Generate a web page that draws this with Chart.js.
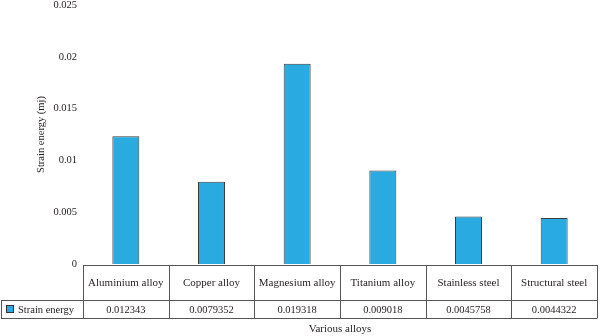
<!DOCTYPE html>
<html>
<head>
<meta charset="utf-8">
<script src="https://cdn.jsdelivr.net/npm/chart.js@4"></script>
<style>
html,body{margin:0;padding:0;background:#fff;}
#wrap{width:600px;height:336px;position:relative;}
</style>
</head>
<body>
<div id="wrap"><canvas id="c" width="600" height="336"></canvas></div>
<script>
const categories = ['Aluminium alloy','Copper alloy','Magnesium alloy','Titanium alloy','Stainless steel','Structural steel'];
const strainEnergy = [0.012343, 0.0079352, 0.019318, 0.009018, 0.0045758, 0.0044322];
const valueLabels = ['0.012343','0.0079352','0.019318','0.009018','0.0045758','0.0044322'];
const yTickLabels = ['0','0.005','0.01','0.015','0.02','0.025'];
const seriesName = 'Strain energy';
const xTitle = 'Various alloys';
const yTitle = 'Strain energy (mj)';

const FONT = '"Liberation Serif", "Times New Roman", serif';
const TEXT = '#231f20';
const LINE = '#555555';
const BLUE = '#29abe2';

const tablePlugin = {
  id: 'dataTable',
  afterDraw(chart) {
    const ctx = chart.ctx;
    const xs = chart.scales.x;
    const area = chart.chartArea;
    const n = categories.length;
    const w = (xs.right - xs.left) / n;
    const top = area.bottom + 1;
    const mid = top + 35;
    const bot = mid + 18;
    const legLeft = 1;
    ctx.save();
    ctx.strokeStyle = LINE;
    ctx.lineWidth = 1;
    ctx.beginPath();
    ctx.moveTo(xs.left, top + 0.5); ctx.lineTo(xs.right, top + 0.5);
    ctx.moveTo(legLeft, mid + 0.5); ctx.lineTo(xs.right, mid + 0.5);
    ctx.moveTo(legLeft, bot + 0.5); ctx.lineTo(xs.right, bot + 0.5);
    ctx.moveTo(legLeft + 0.5, mid); ctx.lineTo(legLeft + 0.5, bot);
    for (let i = 0; i <= n; i++) {
      const x = Math.round(xs.getPixelForValue(0) - w / 2 + i * w) + 0.5;
      ctx.moveTo(x, top); ctx.lineTo(x, bot + 0.5);
    }
    ctx.stroke();

    ctx.fillStyle = TEXT;
    ctx.textAlign = 'center';
    ctx.textBaseline = 'middle';
    for (let i = 0; i < n; i++) {
      const cx = xs.getPixelForValue(i);
      ctx.font = '11px ' + FONT;
      ctx.fillText(categories[i], cx, (top + mid) / 2 + 1);
      ctx.font = '10.5px ' + FONT;
      ctx.fillText(valueLabels[i], cx, (mid + bot) / 2 + 1);
    }
    ctx.fillStyle = BLUE;
    ctx.fillRect(6.5, mid + 5.5, 7, 7);
    ctx.strokeStyle = '#333';
    ctx.strokeRect(6.5, mid + 5.5, 7, 7);
    ctx.fillStyle = TEXT;
    ctx.textAlign = 'left';
    ctx.font = '10.5px ' + FONT;
    ctx.fillText(seriesName, 18, (mid + bot) / 2 + 1);
    ctx.textAlign = 'center';
    ctx.font = '11px ' + FONT;
    ctx.fillText(xTitle, (xs.left + xs.right) / 2, bot + 11);
    ctx.restore();
  }
};

new Chart(document.getElementById('c'), {
  type: 'bar',
  data: {
    labels: categories,
    datasets: [{
      label: seriesName,
      data: strainEnergy,
      backgroundColor: BLUE,
      borderColor: '#3c3c3c',
      borderWidth: 1,
      categoryPercentage: 1,
      barPercentage: 0.315
    }]
  },
  options: {
    responsive: false,
    animation: false,
    layout: { padding: { top: 0, right: 3, bottom: 72, left: 0 } },
    plugins: { legend: { display: false }, tooltip: { enabled: false } },
    scales: {
      x: { display: false },
      y: {
        min: 0, max: 0.025,
        afterFit(scale) { scale.width = 83; scale.paddingTop = 5; scale.paddingBottom = 0; },
        grid: { display: false, drawTicks: false },
        border: { display: false },
        ticks: {
          stepSize: 0.005,
          padding: 6,
          color: TEXT,
          font: { family: FONT, size: 10.5 },
          callback: (v, i) => yTickLabels[i]
        },
        title: {
          display: true,
          text: yTitle,
          color: TEXT,
          font: { family: FONT, size: 10.5 },
          padding: { top: 35, bottom: 0 }
        }
      }
    }
  },
  plugins: [tablePlugin]
});
</script>
</body>
</html>
